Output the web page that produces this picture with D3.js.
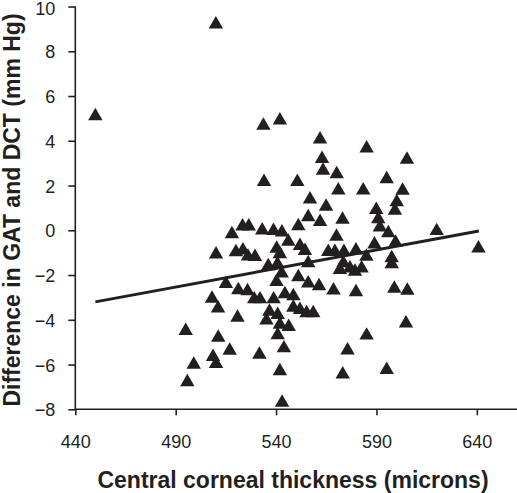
<!DOCTYPE html>
<html><head><meta charset="utf-8">
<script src="https://cdn.jsdelivr.net/npm/d3@7"></script>
<style>body{margin:0;background:#fff}svg{display:block}</style>
</head><body>
<script>
// Data (central corneal thickness in microns, GAT - DCT difference in mm Hg)
const cct = [450,510,533.7,541.9,561.9,562.9,563.4,534,550.6,556.9,564.9,556,561.9,573.1,570.2,571,585.1,605.2,595.1,583.4,603,600.1,599.2,589.9,590.9,591.7,595.9,620,570.1,640.8,
551.1,523.3,526.4,518,533.1,538.7,542.9,546.1,551.9,554.4,540.3,541.9,566,569.3,573.8,579.8,585,589,599.5,597.6,597.6,510.1,520,523.5,526,529.5,
573.5,576.8,571.8,579.3,582.6,556,540.7,536.1,542.8,540.2,551.1,556,561.4,568.6,579.8,598.9,605.4,515,521.2,525.8,529.1,532,538.8,544.4,548.6,508.1,
511.1,520.8,536.7,535.2,540.8,541.9,546.3,548.6,551.9,555.2,558.5,604.7,585.1,495,511.2,540.8,516.9,508.6,510.1,531.7,543.9,499,575.6,541.9,573.2,595.1,495.8,543];
const diff = [5.1,9.2,4.68,4.91,4.06,3.19,2.67,2.16,2.16,1.38,1.06,0.59,0.38,0.48,2.51,1.79,3.66,3.16,2.29,1.78,1.77,1.26,0.88,0.91,0.5,0.13,-0.12,-0.03,-0.28,-0.81,
0.19,0.18,0.18,-0.17,0,-0.02,-0.09,-0.51,-0.7,-0.92,-0.82,-1.06,-0.96,-0.96,-0.96,-0.9,-1.18,-0.63,-0.55,-1.24,-1.51,-1.08,-0.97,-0.9,-1.17,-1.19,
-1.47,-1.7,-1.77,-1.85,-1.7,-1.47,-1.51,-1.6,-1.92,-2.3,-2.09,-2.37,-2.49,-2.68,-2.76,-2.61,-2.69,-2.39,-2.67,-2.72,-3.08,-3.08,-3.08,-2.85,-2.94,-3.05,
-3.49,-3.9,-3.63,-4.03,-3.78,-4.21,-4.31,-3.45,-3.56,-3.7,-3.7,-4.16,-4.7,-4.49,-4.79,-4.68,-5.38,-5.66,-5.97,-5.55,-5.27,-6,-5.37,-6.29,-6.44,-6.24,-6.78,-7.7];
const fitX = [450, 641];
const fitY = [-3.2, -0.03];
const xTicks = [440, 490, 540, 590, 640];
const yTicks = [-8, -6, -4, -2, 0, 2, 4, 6, 8, 10];
const xTitle = "Central corneal thickness (microns)";
const yTitle = "Difference in GAT and DCT (mm Hg)";

const W = 517, H = 493;
const font = "Liberation Sans, Arial, sans-serif";
const svg = d3.select("body").append("svg").attr("width", W).attr("height", H);
const ink = "#231f20";
const x = d3.scaleLinear().domain([440, 660]).range([75.3, 517]);
const y = d3.scaleLinear().domain([-8, 10]).range([409.3, 6.5]);

// y axis
const ya = svg.append("g").attr("transform", "translate(75.3,0)")
  .call(d3.axisLeft(y).tickValues(yTicks).tickSize(7).tickPadding(13).tickFormat(d => d < 0 ? "\u2212" + Math.abs(d) : d));
ya.select(".domain").attr("d", `M0,${y(10)}V${y(-8)}`);
// x axis
const xa = svg.append("g").attr("transform", "translate(0,409.3)")
  .call(d3.axisBottom(x).tickValues(xTicks).tickSize(6).tickPadding(20));
xa.select(".domain").attr("d", `M${x(440)},0H${W}`);
[ya, xa].forEach(g => {
  g.selectAll(".domain,.tick line").attr("stroke", ink).attr("stroke-width", 1.6);
  g.selectAll("text").attr("fill", ink).attr("font-family", font).attr("font-size", 18);
});
ya.selectAll("text").attr("dy", d => d === 10 ? "0.46em" : "0.36em");

// regression line
svg.append("line")
  .attr("x1", x(fitX[0])).attr("y1", y(fitY[0]))
  .attr("x2", x(fitX[1])).attr("y2", y(fitY[1]))
  .attr("stroke", ink).attr("stroke-width", 3);

// points
const tri = d3.symbol().type(d3.symbolTriangle).size(90);
svg.append("g").selectAll("path").data(cct.map((c, i) => [c, diff[i]])).join("path")
  .attr("transform", d => `translate(${x(d[0])},${y(d[1])})`)
  .attr("d", tri).attr("fill", ink);

// titles
svg.append("text").attr("x", 293).attr("y", 488).attr("text-anchor", "middle")
  .attr("font-family", font).attr("font-weight", "bold").attr("font-size", 23)
  .attr("fill", ink).text(xTitle);
svg.append("text").attr("transform", "translate(20,210) rotate(-90)").attr("text-anchor", "middle")
  .attr("font-family", font).attr("font-weight", "bold").attr("font-size", 23)
  .attr("fill", ink).text(yTitle);
</script>
</body></html>
